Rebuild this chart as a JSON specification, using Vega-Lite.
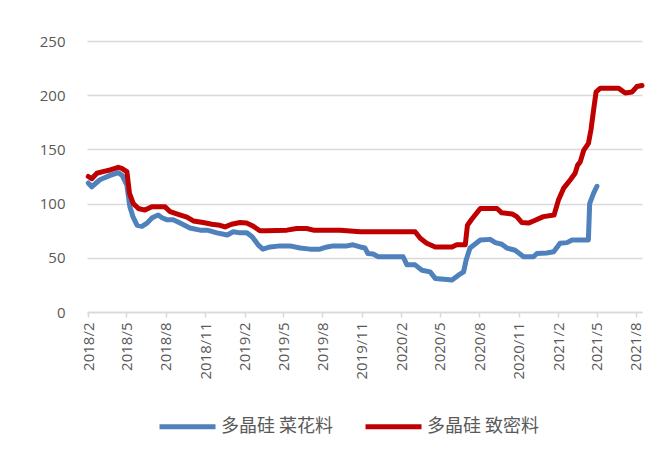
{
  "$schema": "https://vega.github.io/schema/vega-lite/v6.json",
  "width": 555,
  "height": 271,
  "autosize": "none",
  "padding": {"left": 87, "top": 41, "right": 25, "bottom": 145},
  "background": "white",
  "config": {
    "view": {"stroke": null},
    "font": "Open Sans"
  },
  "data": {
    "values": [
      {"date": "2018-02-01", "series": "多晶硅 菜花料", "price": 119},
      {"date": "2018-02-09", "series": "多晶硅 菜花料", "price": 115.5},
      {"date": "2018-02-28", "series": "多晶硅 菜花料", "price": 122},
      {"date": "2018-03-24", "series": "多晶硅 菜花料", "price": 126},
      {"date": "2018-04-12", "series": "多晶硅 菜花料", "price": 128.5},
      {"date": "2018-04-21", "series": "多晶硅 菜花料", "price": 126},
      {"date": "2018-05-02", "series": "多晶硅 菜花料", "price": 117},
      {"date": "2018-05-09", "series": "多晶硅 菜花料", "price": 97},
      {"date": "2018-05-16", "series": "多晶硅 菜花料", "price": 88},
      {"date": "2018-05-26", "series": "多晶硅 菜花料", "price": 80},
      {"date": "2018-06-06", "series": "多晶硅 菜花料", "price": 79},
      {"date": "2018-06-18", "series": "多晶硅 菜花料", "price": 82},
      {"date": "2018-06-30", "series": "多晶硅 菜花料", "price": 87},
      {"date": "2018-07-14", "series": "多晶硅 菜花料", "price": 89.5},
      {"date": "2018-07-23", "series": "多晶硅 菜花料", "price": 87},
      {"date": "2018-08-04", "series": "多晶硅 菜花料", "price": 85},
      {"date": "2018-08-18", "series": "多晶硅 菜花料", "price": 85},
      {"date": "2018-09-03", "series": "多晶硅 菜花料", "price": 82},
      {"date": "2018-09-26", "series": "多晶硅 菜花料", "price": 77.5},
      {"date": "2018-10-20", "series": "多晶硅 菜花料", "price": 75.5},
      {"date": "2018-11-05", "series": "多晶硅 菜花料", "price": 75.5},
      {"date": "2018-11-28", "series": "多晶硅 菜花料", "price": 73},
      {"date": "2018-12-22", "series": "多晶硅 菜花料", "price": 71},
      {"date": "2019-01-05", "series": "多晶硅 菜花料", "price": 74},
      {"date": "2019-01-21", "series": "多晶硅 菜花料", "price": 73},
      {"date": "2019-02-06", "series": "多晶硅 菜花料", "price": 73},
      {"date": "2019-02-18", "series": "多晶硅 菜花料", "price": 69.5},
      {"date": "2019-03-04", "series": "多晶硅 菜花料", "price": 62},
      {"date": "2019-03-15", "series": "多晶硅 菜花料", "price": 58},
      {"date": "2019-04-01", "series": "多晶硅 菜花料", "price": 60},
      {"date": "2019-04-24", "series": "多晶硅 菜花料", "price": 61},
      {"date": "2019-05-17", "series": "多晶硅 菜花料", "price": 61},
      {"date": "2019-06-10", "series": "多晶硅 菜花料", "price": 59},
      {"date": "2019-07-03", "series": "多晶硅 菜花料", "price": 58},
      {"date": "2019-07-26", "series": "多晶硅 菜花料", "price": 58},
      {"date": "2019-08-12", "series": "多晶硅 菜花料", "price": 60},
      {"date": "2019-08-26", "series": "多晶硅 菜花料", "price": 61},
      {"date": "2019-09-27", "series": "多晶硅 菜花料", "price": 61},
      {"date": "2019-10-11", "series": "多晶硅 菜花料", "price": 62},
      {"date": "2019-10-28", "series": "多晶硅 菜花料", "price": 60},
      {"date": "2019-11-08", "series": "多晶硅 菜花料", "price": 59},
      {"date": "2019-11-15", "series": "多晶硅 菜花料", "price": 54},
      {"date": "2019-11-27", "series": "多晶硅 菜花料", "price": 53.5},
      {"date": "2019-12-09", "series": "多晶硅 菜花料", "price": 51},
      {"date": "2020-02-05", "series": "多晶硅 菜花料", "price": 51},
      {"date": "2020-02-14", "series": "多晶硅 菜花料", "price": 43.5},
      {"date": "2020-03-04", "series": "多晶硅 菜花料", "price": 43.5},
      {"date": "2020-03-20", "series": "多晶硅 菜花料", "price": 38.5},
      {"date": "2020-04-08", "series": "多晶硅 菜花料", "price": 37},
      {"date": "2020-04-20", "series": "多晶硅 菜花料", "price": 31},
      {"date": "2020-05-17", "series": "多晶硅 菜花料", "price": 30},
      {"date": "2020-05-29", "series": "多晶硅 菜花料", "price": 29.5},
      {"date": "2020-06-13", "series": "多晶硅 菜花料", "price": 34},
      {"date": "2020-06-25", "series": "多晶硅 菜花料", "price": 37},
      {"date": "2020-07-01", "series": "多晶硅 菜花料", "price": 48},
      {"date": "2020-07-10", "series": "多晶硅 菜花料", "price": 59},
      {"date": "2020-08-03", "series": "多晶硅 菜花料", "price": 66.5},
      {"date": "2020-08-26", "series": "多晶硅 菜花料", "price": 67},
      {"date": "2020-09-07", "series": "多晶硅 菜花料", "price": 64},
      {"date": "2020-09-22", "series": "多晶硅 菜花料", "price": 62.5},
      {"date": "2020-10-04", "series": "多晶硅 菜花料", "price": 59},
      {"date": "2020-10-23", "series": "多晶硅 菜花料", "price": 57},
      {"date": "2020-11-12", "series": "多晶硅 菜花料", "price": 51},
      {"date": "2020-12-05", "series": "多晶硅 菜花料", "price": 51},
      {"date": "2020-12-13", "series": "多晶硅 菜花料", "price": 54},
      {"date": "2021-01-05", "series": "多晶硅 菜花料", "price": 54.5},
      {"date": "2021-01-21", "series": "多晶硅 菜花料", "price": 55.5},
      {"date": "2021-02-05", "series": "多晶硅 菜花料", "price": 63.5},
      {"date": "2021-02-21", "series": "多晶硅 菜花料", "price": 64},
      {"date": "2021-03-05", "series": "多晶硅 菜花料", "price": 66.5},
      {"date": "2021-04-12", "series": "多晶硅 菜花料", "price": 66.5},
      {"date": "2021-04-15", "series": "多晶硅 菜花料", "price": 100},
      {"date": "2021-04-24", "series": "多晶硅 菜花料", "price": 109.5},
      {"date": "2021-05-02", "series": "多晶硅 菜花料", "price": 116},

      {"date": "2018-02-01", "series": "多晶硅 致密料", "price": 125},
      {"date": "2018-02-09", "series": "多晶硅 致密料", "price": 123},
      {"date": "2018-02-21", "series": "多晶硅 致密料", "price": 128},
      {"date": "2018-03-07", "series": "多晶硅 致密料", "price": 129.5},
      {"date": "2018-03-24", "series": "多晶硅 致密料", "price": 131},
      {"date": "2018-04-12", "series": "多晶硅 致密料", "price": 133.5},
      {"date": "2018-04-20", "series": "多晶硅 致密料", "price": 132.5},
      {"date": "2018-05-02", "series": "多晶硅 致密料", "price": 129.5},
      {"date": "2018-05-08", "series": "多晶硅 致密料", "price": 109.5},
      {"date": "2018-05-17", "series": "多晶硅 致密料", "price": 100},
      {"date": "2018-05-29", "series": "多晶硅 致密料", "price": 95.5},
      {"date": "2018-06-13", "series": "多晶硅 致密料", "price": 94},
      {"date": "2018-06-29", "series": "多晶硅 致密料", "price": 97},
      {"date": "2018-07-30", "series": "多晶硅 致密料", "price": 97},
      {"date": "2018-08-11", "series": "多晶硅 致密料", "price": 92.5},
      {"date": "2018-08-26", "series": "多晶硅 致密料", "price": 90.5},
      {"date": "2018-09-19", "series": "多晶硅 致密料", "price": 87.5},
      {"date": "2018-10-04", "series": "多晶硅 致密料", "price": 84},
      {"date": "2018-10-27", "series": "多晶硅 致密料", "price": 82.5},
      {"date": "2018-11-16", "series": "多晶硅 致密料", "price": 81},
      {"date": "2018-12-05", "series": "多晶硅 致密料", "price": 80},
      {"date": "2018-12-17", "series": "多晶硅 致密料", "price": 78.5},
      {"date": "2019-01-01", "series": "多晶硅 致密料", "price": 81},
      {"date": "2019-01-21", "series": "多晶硅 致密料", "price": 82.5},
      {"date": "2019-02-05", "series": "多晶硅 致密料", "price": 82},
      {"date": "2019-02-21", "series": "多晶硅 致密料", "price": 79},
      {"date": "2019-03-08", "series": "多晶硅 致密料", "price": 75},
      {"date": "2019-03-24", "series": "多晶硅 致密料", "price": 75},
      {"date": "2019-05-10", "series": "多晶硅 致密料", "price": 75.5},
      {"date": "2019-06-02", "series": "多晶硅 致密料", "price": 77},
      {"date": "2019-06-25", "series": "多晶硅 致密料", "price": 77},
      {"date": "2019-07-11", "series": "多晶硅 致密料", "price": 75.5},
      {"date": "2019-09-11", "series": "多晶硅 致密料", "price": 75.5},
      {"date": "2019-09-27", "series": "多晶硅 致密料", "price": 75},
      {"date": "2019-10-28", "series": "多晶硅 致密料", "price": 74},
      {"date": "2020-03-04", "series": "多晶硅 致密料", "price": 74},
      {"date": "2020-03-16", "series": "多晶硅 致密料", "price": 68},
      {"date": "2020-03-31", "series": "多晶硅 致密料", "price": 63.5},
      {"date": "2020-04-20", "series": "多晶硅 致密料", "price": 60},
      {"date": "2020-05-29", "series": "多晶硅 致密料", "price": 60},
      {"date": "2020-06-09", "series": "多晶硅 致密料", "price": 62},
      {"date": "2020-06-29", "series": "多晶硅 致密料", "price": 62},
      {"date": "2020-07-04", "series": "多晶硅 致密料", "price": 80},
      {"date": "2020-07-14", "series": "多晶硅 致密料", "price": 85.5},
      {"date": "2020-08-03", "series": "多晶硅 致密料", "price": 95.5},
      {"date": "2020-09-11", "series": "多晶硅 致密料", "price": 95.5},
      {"date": "2020-09-22", "series": "多晶硅 致密料", "price": 91.5},
      {"date": "2020-10-16", "series": "多晶硅 致密料", "price": 90.5},
      {"date": "2020-10-27", "series": "多晶硅 致密料", "price": 88},
      {"date": "2020-11-08", "series": "多晶硅 致密料", "price": 82.5},
      {"date": "2020-11-23", "series": "多晶硅 致密料", "price": 82},
      {"date": "2020-12-05", "series": "多晶硅 致密料", "price": 84},
      {"date": "2020-12-28", "series": "多晶硅 致密料", "price": 88},
      {"date": "2021-01-22", "series": "多晶硅 致密料", "price": 89.5},
      {"date": "2021-02-01", "series": "多晶硅 致密料", "price": 103},
      {"date": "2021-02-13", "series": "多晶硅 致密料", "price": 114},
      {"date": "2021-03-01", "series": "多晶硅 致密料", "price": 122},
      {"date": "2021-03-12", "series": "多晶硅 致密料", "price": 128},
      {"date": "2021-03-18", "series": "多晶硅 致密料", "price": 135.5},
      {"date": "2021-03-24", "series": "多晶硅 致密料", "price": 138.5},
      {"date": "2021-04-01", "series": "多晶硅 致密料", "price": 149},
      {"date": "2021-04-12", "series": "多晶硅 致密料", "price": 155.5},
      {"date": "2021-04-18", "series": "多晶硅 致密料", "price": 168},
      {"date": "2021-04-24", "series": "多晶硅 致密料", "price": 186},
      {"date": "2021-04-30", "series": "多晶硅 致密料", "price": 203},
      {"date": "2021-05-10", "series": "多晶硅 致密料", "price": 206.5},
      {"date": "2021-06-21", "series": "多晶硅 致密料", "price": 206.5},
      {"date": "2021-07-07", "series": "多晶硅 致密料", "price": 202},
      {"date": "2021-07-23", "series": "多晶硅 致密料", "price": 203},
      {"date": "2021-08-03", "series": "多晶硅 致密料", "price": 208},
      {"date": "2021-08-15", "series": "多晶硅 致密料", "price": 209}
    ]
  },
  "mark": {
    "type": "line",
    "strokeWidth": 5,
    "strokeCap": "round",
    "strokeJoin": "round"
  },
  "encoding": {
    "x": {
      "field": "date",
      "type": "temporal",
      "title": null,
      "scale": {
        "type": "utc",
        "domain": [
          {"year": 2018, "month": 1, "date": 29, "utc": true},
          {"year": 2021, "month": 8, "date": 15, "utc": true}
        ]
      },
      "axis": {
        "labelExpr": "utcFormat(datum.value, '%Y/%-m')",
        "values": [
          {"year": 2018, "month": 2, "date": 1, "utc": true},
          {"year": 2018, "month": 5, "date": 1, "utc": true},
          {"year": 2018, "month": 8, "date": 1, "utc": true},
          {"year": 2018, "month": 11, "date": 1, "utc": true},
          {"year": 2019, "month": 2, "date": 1, "utc": true},
          {"year": 2019, "month": 5, "date": 1, "utc": true},
          {"year": 2019, "month": 8, "date": 1, "utc": true},
          {"year": 2019, "month": 11, "date": 1, "utc": true},
          {"year": 2020, "month": 2, "date": 1, "utc": true},
          {"year": 2020, "month": 5, "date": 1, "utc": true},
          {"year": 2020, "month": 8, "date": 1, "utc": true},
          {"year": 2020, "month": 11, "date": 1, "utc": true},
          {"year": 2021, "month": 2, "date": 1, "utc": true},
          {"year": 2021, "month": 5, "date": 1, "utc": true},
          {"year": 2021, "month": 8, "date": 1, "utc": true}
        ],
        "labelAngle": -90,
        "labelFont": "Open Sans",
        "labelFontSize": 15,
        "labelColor": "#595959",
        "labelPadding": 5,
        "labelOverlap": false,
        "labelFlush": false,
        "domainColor": "#d9d9d9",
        "domainWidth": 1.5,
        "tickColor": "#d9d9d9",
        "tickWidth": 1.5,
        "tickSize": 5,
        "grid": false
      }
    },
    "y": {
      "field": "price",
      "type": "quantitative",
      "title": null,
      "scale": {"domain": [0, 250], "nice": false, "zero": true},
      "axis": {
        "values": [0, 50, 100, 150, 200, 250],
        "labelFont": "Open Sans",
        "labelFontSize": 15,
        "labelColor": "#595959",
        "labelPadding": 22,
        "domain": false,
        "ticks": false,
        "grid": true,
        "gridColor": "#d9d9d9",
        "gridWidth": 1.5
      }
    },
    "color": {
      "field": "series",
      "type": "nominal",
      "title": null,
      "scale": {
        "domain": ["多晶硅 菜花料", "多晶硅 致密料"],
        "range": ["#4f81bd", "#c00000"]
      },
      "legend": {
        "orient": "none",
        "direction": "horizontal",
        "legendX": 70,
        "legendY": 355,
        "symbolType": "stroke",
        "symbolSize": 3136,
        "symbolStrokeWidth": 5,
        "labelFont": "Noto Sans CJK SC",
        "labelFontSize": 18,
        "labelColor": "#595959",
        "labelOffset": 3,
        "columnPadding": 21,
        "labelLimit": 300
      }
    }
  }
}
